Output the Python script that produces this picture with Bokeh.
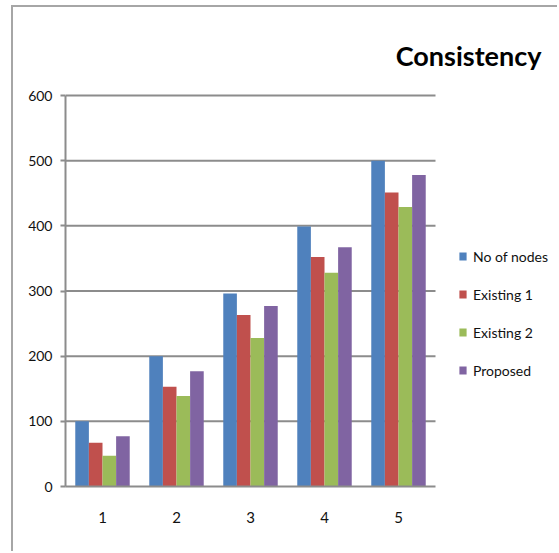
from bokeh.plotting import figure
from bokeh.models import (ColumnDataSource, Range1d, FixedTicker, Legend, LegendItem, Label)
from bokeh.transform import dodge
from bokeh.embed import file_html
from bokeh.resources import INLINE

# ---- data ----
categories = [1, 2, 3, 4, 5]
series_names = ["No of nodes", "Existing 1", "Existing 2", "Proposed"]
no_of_nodes = [100, 200, 296, 399, 500]
existing_1 = [67, 153, 263, 352, 451]
existing_2 = [47, 139, 228, 328, 429]
proposed = [77, 177, 277, 367, 478]
y_ticks = [0, 100, 200, 300, 400, 500, 600]
title_text = "Consistency"
colors = ["#4F81BD", "#C0504D", "#9BBB59", "#8064A2"]

source = ColumnDataSource(dict(x=categories, s0=no_of_nodes, s1=existing_1,
                               s2=existing_2, s3=proposed))

FONT = "Lato"
GRID = "#8c8c8c"

# ---- layout geometry (pixels in the 559x553 page) ----
ML, MT, BW = 11, 5, 2            # outer chart-area border (left/top) via CSS
W, H = 559, 553
FRAME_LEFT, FRAME_BOTTOM = 65, 486
PLOT_RIGHT, PLOT_TOP = 435, 95   # visible plot area (gridlines end here)
TITLE_RIGHT, TITLE_Y = 541, 55

x0, x1 = 0.5, len(categories) + 0.5
y0, y1 = y_ticks[0], y_ticks[-1]
px_x = (PLOT_RIGHT - FRAME_LEFT) / (x1 - x0)
px_y = (FRAME_BOTTOM - PLOT_TOP) / (y1 - y0)
frame_top = MT + BW
x_end = x0 + (W - FRAME_LEFT) / px_x
y_end = y0 + (FRAME_BOTTOM - frame_top) / px_y

p = figure(width=W - ML - BW, height=H - MT - BW, output_backend="svg",
           toolbar_location=None,
           x_range=Range1d(x0, x_end), y_range=Range1d(y0, y_end),
           min_border_left=FRAME_LEFT - ML - BW, min_border_right=0,
           min_border_top=0, min_border_bottom=H - FRAME_BOTTOM)
p.styles = {"margin-left": "%dpx" % ML, "margin-top": "%dpx" % MT,
            "border-left": "%dpx solid #a6a6a6" % BW,
            "border-top": "%dpx solid #a6a6a6" % BW}
p.outline_line_color = None
p.background_fill_color = "white"
p.border_fill_color = "white"

# horizontal gridlines limited to the plot area
p.segment(x0=x0, x1=x1, y0=y_ticks[1:], y1=y_ticks[1:], line_color=GRID,
          line_width=2)

bw = 0.184
offsets = [-1.5 * bw, -0.5 * bw, 0.5 * bw, 1.5 * bw]
items = []
for i, (name, col) in enumerate(zip(series_names, colors)):
    r = p.vbar(x=dodge("x", offsets[i], range=p.x_range), top="s%d" % i, width=bw,
               bottom=0, source=source, fill_color=col, line_color=None)
    items.append(LegendItem(label=name, renderers=[r]))

# axes
p.xaxis.ticker = FixedTicker(ticks=categories)
p.xaxis.bounds = (x0, x1)
p.xaxis.major_tick_line_color = None
p.xaxis.minor_tick_line_color = None
p.xaxis.axis_line_color = GRID
p.xaxis.axis_line_width = 2
p.xaxis.major_label_standoff = 19
p.xaxis.major_label_text_font = FONT
p.xaxis.major_label_text_font_size = "15px"
p.xaxis.major_label_text_color = "#111111"

p.yaxis.ticker = FixedTicker(ticks=y_ticks)
p.yaxis.bounds = (y0, y1)
p.yaxis.minor_tick_line_color = None
p.yaxis.major_tick_out = 5
p.yaxis.major_tick_in = 0
p.yaxis.major_tick_line_color = GRID
p.yaxis.major_tick_line_width = 2
p.yaxis.axis_line_color = GRID
p.yaxis.axis_line_width = 2
p.yaxis.major_label_standoff = 8
p.yaxis.major_label_text_font = FONT
p.yaxis.major_label_text_font_size = "14px"
p.yaxis.major_label_text_color = "#111111"

p.xgrid.grid_line_color = None
p.ygrid.grid_line_color = None

legend = Legend(items=items, location=(393, 106), orientation="vertical",
                glyph_width=9, glyph_height=10, label_height=20, spacing=18,
                label_standoff=6, padding=0, margin=0,
                border_line_color=None, background_fill_alpha=0,
                label_text_font=FONT, label_text_font_size="14px",
                label_text_color="#111111")
p.add_layout(legend, "center")

# chart title (right-aligned, top right of the chart area)
title = Label(x=x0 + (TITLE_RIGHT - FRAME_LEFT) / px_x,
              y=y0 + (FRAME_BOTTOM - TITLE_Y) / px_y,
              text=title_text, text_font=FONT, text_font_size="27px",
              text_font_style="bold", text_align="right",
              text_baseline="alphabetic", text_color="#000000")
p.add_layout(title)

open("out.html", "w").write(file_html(p, INLINE))
